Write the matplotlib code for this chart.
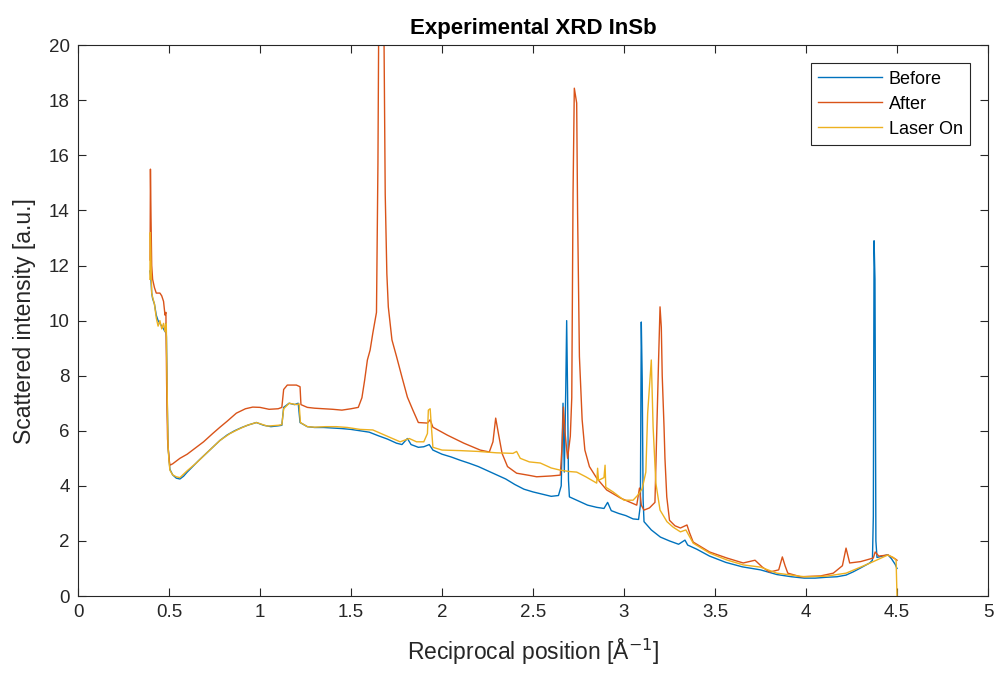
import matplotlib
matplotlib.use("Agg")
import matplotlib.pyplot as plt

# ---- Before ----
q_before = [0.395, 0.40, 0.405, 0.41, 0.42, 0.43, 0.44, 0.45, 0.46, 0.47, 0.478, 0.482, 0.486,
            0.49, 0.495, 0.50, 0.505, 0.52, 0.54, 0.56, 0.58, 0.60, 0.63, 0.66, 0.70, 0.74,
            0.78, 0.82, 0.86, 0.90, 0.94, 0.98, 1.02, 1.06, 1.10, 1.12, 1.13, 1.16, 1.19, 1.21,
            1.22, 1.26, 1.30, 1.35, 1.40, 1.45, 1.50, 1.55, 1.60, 1.65, 1.70, 1.75, 1.78, 1.81,
            1.83, 1.87, 1.90, 1.93, 1.95, 2.00, 2.05, 2.10, 2.15, 2.20, 2.25, 2.30, 2.35, 2.40,
            2.45, 2.50, 2.55, 2.60, 2.64, 2.655, 2.665, 2.672, 2.68, 2.685, 2.69, 2.695, 2.70,
            2.75, 2.80, 2.85, 2.89, 2.91, 2.93, 2.97, 3.01, 3.05, 3.08, 3.09, 3.095, 3.10, 3.105,
            3.11, 3.15, 3.20, 3.25, 3.30, 3.335, 3.35, 3.40, 3.47, 3.56, 3.65, 3.75, 3.84, 3.92,
            3.99, 4.05, 4.11, 4.17, 4.22, 4.26, 4.30, 4.35, 4.365, 4.37, 4.374, 4.379, 4.384,
            4.39, 4.42, 4.45, 4.47, 4.49, 4.50]
i_before = [11.8, 11.6, 11.0, 10.8, 10.6, 10.2, 10.0, 9.9, 9.8, 9.7, 9.6, 9.9, 9.4,
            7.2, 5.4, 5.0, 4.6, 4.4, 4.28, 4.25, 4.35, 4.5, 4.7, 4.9, 5.15, 5.4,
            5.65, 5.85, 6.0, 6.12, 6.22, 6.3, 6.2, 6.15, 6.18, 6.2, 6.85, 7.0, 6.95, 7.0,
            6.3, 6.15, 6.12, 6.12, 6.1, 6.08, 6.05, 6.0, 5.95, 5.82, 5.7, 5.55, 5.5, 5.72,
            5.5, 5.4, 5.42, 5.5, 5.3, 5.15, 5.05, 4.93, 4.82, 4.7, 4.55, 4.4, 4.25, 4.05,
            3.88, 3.78, 3.7, 3.62, 3.65, 4.0, 7.0, 4.5, 7.5, 10.0, 7.4, 4.2, 3.6,
            3.45, 3.3, 3.22, 3.18, 3.4, 3.1, 3.0, 2.92, 2.8, 2.78, 3.3, 9.95, 7.9, 3.5,
            2.7, 2.4, 2.14, 2.0, 1.88, 2.03, 1.85, 1.7, 1.45, 1.22, 1.06, 0.95, 0.78, 0.7,
            0.65, 0.65, 0.68, 0.7, 0.76, 0.88, 1.02, 1.2, 1.3, 2.9, 12.9, 11.5, 2.0,
            1.4, 1.45, 1.5, 1.35, 1.15, 1.0]

# ---- After ----
q_after = [0.396, 0.398, 0.401, 0.405, 0.41, 0.42, 0.43, 0.45, 0.46, 0.47, 0.478, 0.483, 0.487,
           0.492, 0.50, 0.505, 0.52, 0.54, 0.56, 0.60, 0.65, 0.69, 0.74, 0.78, 0.82, 0.87,
           0.92, 0.96, 1.00, 1.05, 1.10, 1.12, 1.13, 1.15, 1.20, 1.22, 1.225, 1.26, 1.30, 1.35,
           1.40, 1.45, 1.50, 1.54, 1.56, 1.575, 1.59, 1.605, 1.62, 1.64, 1.648, 1.655, 1.677,
           1.688, 1.697, 1.705, 1.725, 1.75, 1.78, 1.81, 1.84, 1.87, 1.92, 1.935, 1.95, 2.03,
           2.12, 2.21, 2.26, 2.28, 2.295, 2.31, 2.33, 2.36, 2.41, 2.48, 2.52, 2.60, 2.65, 2.66,
           2.667, 2.675, 2.69, 2.705, 2.713, 2.72, 2.727, 2.74, 2.745, 2.755, 2.77, 2.785, 2.81,
           2.85, 2.905, 2.98, 3.07, 3.085, 3.095, 3.11, 3.14, 3.17, 3.18, 3.19, 3.198, 3.205,
           3.21, 3.22, 3.225, 3.235, 3.25, 3.28, 3.31, 3.346, 3.36, 3.38, 3.47, 3.565, 3.655,
           3.72, 3.76, 3.80, 3.85, 3.87, 3.885, 3.90, 3.97, 4.08, 4.15, 4.20, 4.22, 4.24, 4.30,
           4.37, 4.38, 4.40, 4.45, 4.49, 4.50]
i_after = [12.2, 15.5, 13.8, 12.0, 11.5, 11.2, 11.0, 11.0, 10.9, 10.7, 10.2, 10.3, 7.7,
           5.7, 5.0, 4.75, 4.8, 4.9, 5.0, 5.15, 5.4, 5.6, 5.9, 6.13, 6.35, 6.64,
           6.8, 6.86, 6.85, 6.78, 6.8, 6.85, 7.5, 7.66, 7.66, 7.6, 6.95, 6.85, 6.82, 6.8,
           6.78, 6.75, 6.8, 6.85, 7.2, 7.84, 8.57, 8.93, 9.55, 10.3, 15.7, 24.0, 24.0,
           14.6, 11.7, 10.5, 9.3, 8.7, 7.95, 7.22, 6.75, 6.3, 6.28, 6.4, 6.13, 5.84,
           5.55, 5.3, 5.23, 5.6, 6.46, 5.9, 5.18, 4.7, 4.46, 4.38, 4.33, 4.36, 4.39, 5.5,
           6.86, 6.0, 5.0, 5.8, 7.2, 14.6, 18.44, 17.9, 13.9, 8.7, 6.4, 5.3, 4.7,
           4.28, 3.85, 3.56, 3.3, 3.92, 3.3, 3.12, 3.2, 3.4, 6.0, 8.57, 10.5, 9.76,
           8.0, 6.13, 5.0, 3.6, 2.75, 2.55, 2.47, 2.58, 2.3, 1.96, 1.6, 1.38, 1.2,
           1.3, 1.05, 0.87, 0.95, 1.42, 1.1, 0.83, 0.7, 0.73, 0.83, 1.1, 1.74, 1.2, 1.25,
           1.38, 1.6, 1.45, 1.49, 1.35, 1.3]

# ---- Laser On ----
q_laser = [0.395, 0.397, 0.40, 0.405, 0.41, 0.42, 0.43, 0.44, 0.45, 0.46, 0.47, 0.478, 0.485,
           0.49, 0.495, 0.50, 0.505, 0.52, 0.54, 0.56, 0.60, 0.65, 0.70, 0.74, 0.78, 0.835,
           0.88, 0.93, 0.98, 1.04, 1.10, 1.12, 1.13, 1.16, 1.20, 1.215, 1.222, 1.26, 1.30, 1.36,
           1.42, 1.48, 1.55, 1.62, 1.70, 1.77, 1.82, 1.86, 1.90, 1.92, 1.925, 1.935, 1.94, 1.95,
           2.00, 2.10, 2.20, 2.30, 2.39, 2.41, 2.43, 2.48, 2.54, 2.60, 2.65, 2.70, 2.74, 2.79,
           2.85, 2.855, 2.86, 2.89, 2.896, 2.90, 2.94, 3.00, 3.05, 3.077, 3.10, 3.12, 3.13, 3.15,
           3.16, 3.175, 3.198, 3.236, 3.27, 3.31, 3.34, 3.38, 3.47, 3.565, 3.655, 3.75, 3.84,
           3.99, 4.11, 4.22, 4.30, 4.37, 4.45, 4.48, 4.495, 4.50]
i_laser = [11.5, 13.2, 12.5, 11.0, 10.85, 10.6, 10.1, 9.8, 10.0, 9.7, 9.9, 9.6, 9.9,
           7.4, 5.4, 4.9, 4.57, 4.4, 4.33, 4.3, 4.55, 4.83, 5.15, 5.4, 5.65, 5.9,
           6.05, 6.2, 6.3, 6.17, 6.2, 6.22, 6.8, 7.0, 6.95, 6.98, 6.3, 6.15, 6.13, 6.15,
           6.15, 6.12, 6.05, 6.03, 5.8, 5.6, 5.72, 5.6, 5.6, 5.9, 6.75, 6.8, 6.3, 5.4,
           5.3, 5.28, 5.25, 5.2, 5.18, 5.25, 5.0, 4.87, 4.83, 4.65, 4.57, 4.52, 4.5, 4.33,
           4.1, 4.64, 4.2, 4.3, 4.75, 3.95, 3.78, 3.48, 3.48, 3.67, 3.9, 4.5, 6.64, 8.57,
           6.13, 4.1, 3.12, 2.7, 2.5, 2.33, 2.4, 1.92, 1.56, 1.31, 1.13, 1.05, 0.83,
           0.7, 0.72, 0.83, 1.05, 1.25, 1.49, 1.4, 1.3, 0.0]

x_ticks = [0, 0.5, 1, 1.5, 2, 2.5, 3, 3.5, 4, 4.5, 5]
x_ticklabels = ["0", "0.5", "1", "1.5", "2", "2.5", "3", "3.5", "4", "4.5", "5"]
y_ticks = list(range(0, 21, 2))

plt.rcParams['font.family'] = ['Liberation Sans', 'DejaVu Sans']
axcol = (0.15, 0.15, 0.15)

fig = plt.figure(figsize=(10, 6.75), dpi=100)
ax = fig.add_axes([0.078, 0.117, 0.91, 0.816])

ax.plot(q_before, i_before, color='#0072BD', lw=1.0, label='Before')
ax.plot(q_after, i_after, color='#D95319', lw=1.0, label='After')
ax.plot(q_laser, i_laser, color='#EDB120', lw=1.0, label='Laser On')

ax.set_xlim(0, 5)
ax.set_ylim(0, 20)
ax.set_xticks(x_ticks)
ax.set_xticklabels(x_ticklabels)
ax.set_yticks(y_ticks)
ax.tick_params(direction='in', length=6, width=0.8, colors=axcol, labelsize=13.5,
               top=True, right=True, pad=6)
for s in ax.spines.values():
    s.set_color(axcol)
    s.set_linewidth(0.8)

ax.set_xlabel('Reciprocal position [Å$^{-1}$]', fontsize=16.5, color=axcol, labelpad=11)
ax.set_ylabel('Scattered intensity [a.u.]', fontsize=16.5, color=axcol, labelpad=9)
ax.set_title('Experimental XRD InSb', fontsize=16, fontweight='bold', color='black', pad=8)

leg = ax.legend(loc='upper right', fontsize=13, fancybox=False, framealpha=1,
                edgecolor=axcol, handlelength=3.5, handletextpad=0.4,
                borderaxespad=1.0, labelspacing=0.45)
leg.get_frame().set_linewidth(0.8)

fig.savefig('out.png', dpi=100)
